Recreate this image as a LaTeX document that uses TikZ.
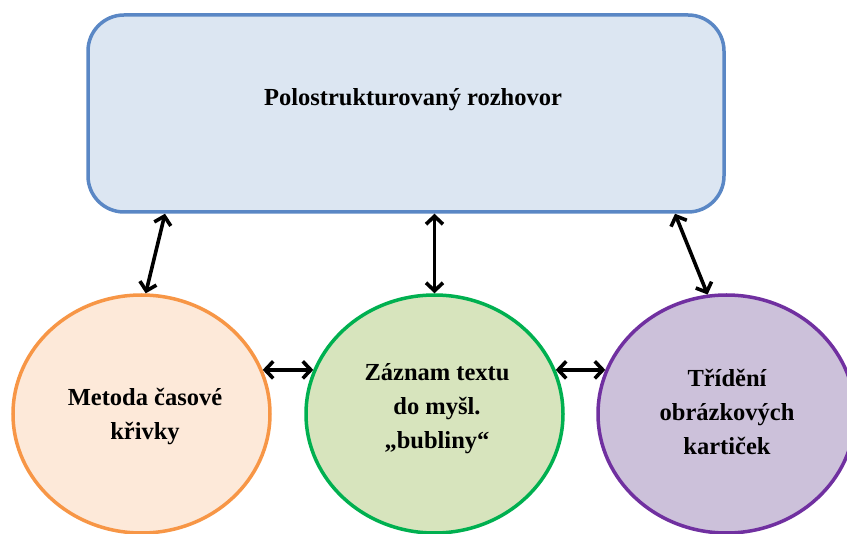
\documentclass[tikz,border=0pt]{standalone}
\usepackage{fontspec}
\setmainfont{Liberation Serif}
\usetikzlibrary{shapes.geometric,arrows.meta}

\definecolor{boxfill}{HTML}{DCE6F2}
\definecolor{boxline}{HTML}{5A87C5}
\definecolor{orfill}{HTML}{FDE9D9}
\definecolor{orline}{HTML}{F79646}
\definecolor{grfill}{HTML}{D7E4BD}
\definecolor{grline}{HTML}{00B050}
\definecolor{pufill}{HTML}{CCC1DA}
\definecolor{puline}{HTML}{7030A0}

\tikzset{
  topbox/.style={draw=boxline, fill=boxfill, line width=3.5pt, rounded corners=36pt,
    minimum width=636pt, minimum height=197pt, inner sep=0pt},
  bubble/.style={ellipse, line width=3.5pt, minimum width=257pt, minimum height=238pt,
    inner sep=0pt, align=center},
  lbl/.style={font=\fontsize{24.5}{34}\selectfont\bfseries, align=center, text=black},
  biarrow/.style={line width=3.6pt, line cap=round,
    {Straight Barb[length=8pt,width=17pt]}-{Straight Barb[length=8pt,width=17pt]}}
}

\begin{document}
\begin{tikzpicture}[x=1pt,y=-1pt]
  \useasboundingbox (0,0) rectangle (847,534);

  % interview box
  \node[topbox] (top) at (406,113.5) {};
  \node[lbl] (toplbl) at (413,100) {Polostrukturovaný rozhovor};

  % three methods
  \node[bubble, draw=orline, fill=orfill] (c1) at (141.5,414) {};
  \node[bubble, draw=grline, fill=grfill] (c2) at (434.5,414) {};
  \node[bubble, draw=puline, fill=pufill] (c3) at (726.5,414) {};

  \node[lbl] (t1) at (145,417) {Metoda časové\\křivky};
  \node[lbl] (t2) at (437,409) {Záznam textu\\do myšl.\\„bubliny“};
  \node[lbl] (t3) at (727,412) {Třídění\\obrázkových\\kartiček};

  % links to the interview
  \draw[biarrow] ([xshift=-241pt]top.south) -- (c1.88);
  \draw[biarrow] (c2.north |- top.south) -- (c2.north);
  \draw[biarrow] ([xshift=269pt]top.south) -- (c3.99);

  % links between methods
  \draw[biarrow] (c1.20) -- (c2.160);
  \draw[biarrow] (c2.20) -- (c3.160);
\end{tikzpicture}
\end{document}
